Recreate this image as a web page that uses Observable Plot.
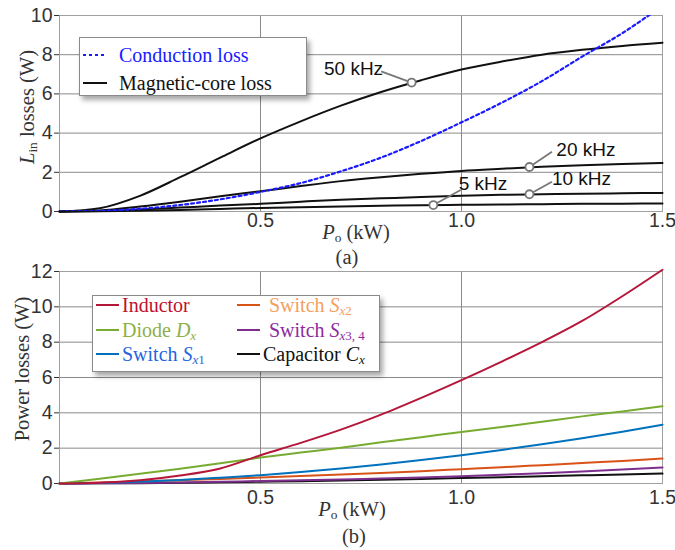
<!DOCTYPE html>
<html>
<head>
<meta charset="utf-8">
<script src="https://cdn.jsdelivr.net/npm/d3@7"></script>
<script src="https://cdn.jsdelivr.net/npm/@observablehq/plot@0.6"></script>
<style>
  body { margin: 0; background: #fff; }
  #wrap { position: relative; width: 675px; height: 550px; background: #fff; overflow: hidden; }
  .abs { position: absolute; white-space: nowrap; }
  .serif { font-family: "Liberation Serif", "Times New Roman", serif; }
  .sub { font-size: 0.65em; position: relative; top: 0.22em; line-height: 0; }
  .legend { position: absolute; background: #fff; border: 1.5px solid #8a8a8a; box-shadow: 3px 4px 5px rgba(0,0,0,0.35); }
  .row { position: absolute; display: flex; align-items: center; height: 20px; line-height: 20px; font-family: "Liberation Serif", "Times New Roman", serif; font-size: 20px; white-space: nowrap; }
  .row svg { margin-right: 3px; }
</style>
</head>
<body>
<div id="wrap">
  <div id="top" class="abs" style="left:0;top:0"></div>
  <div id="bot" class="abs" style="left:0;top:262px"></div>

  <!-- axis titles panel (a) -->
  <div class="abs serif" style="left:27px;top:107px;font-size:20.5px;color:#333;transform:translate(-50%,-50%) rotate(-90deg);"><i>L</i><span class="sub">in</span> losses (W)</div>
  <div class="abs serif" style="left:356px;top:224px;font-size:20.5px;line-height:17px;color:#333;transform:translateX(-50%);"><i>P</i><span class="sub">o</span> (kW)</div>
  <div class="abs serif" style="left:347px;top:249px;font-size:20.5px;line-height:17px;color:#333;transform:translateX(-50%);">(a)</div>

  <!-- axis titles panel (b) -->
  <div class="abs serif" style="left:22px;top:369px;font-size:20.5px;color:#333;transform:translate(-50%,-50%) rotate(-90deg);">Power losses (W)</div>
  <div class="abs serif" style="left:352px;top:501px;font-size:20.5px;line-height:17px;color:#333;transform:translateX(-50%);"><i>P</i><span class="sub">o</span> (kW)</div>
  <div class="abs serif" style="left:354px;top:528px;font-size:20.5px;line-height:17px;color:#333;transform:translateX(-50%);">(b)</div>

  <!-- legend (a) -->
  <div class="legend" style="left:79px;top:37px;width:226px;height:57px;"></div>
  <div class="row" style="left:83px;top:45px;color:#1a1aff;">
    <svg width="24" height="4"><line x1="0" y1="2" x2="24" y2="2" stroke="#1a1aff" stroke-width="2" stroke-dasharray="3,3"/></svg>
    <span style="margin-left:9px">Conduction loss</span>
  </div>
  <div class="row" style="left:83px;top:73px;color:#111;">
    <svg width="24" height="4"><line x1="0" y1="2" x2="24" y2="2" stroke="#111" stroke-width="2"/></svg>
    <span style="margin-left:9px">Magnetic-core loss</span>
  </div>

  <!-- legend (b) -->
  <div class="legend" style="left:92px;top:295px;width:286px;height:75px;"></div>
  <div id="legB"></div>
</div>

<script>
// ---------- data ----------
const po = [0, 0.1, 0.2, 0.3, 0.4, 0.5, 0.6, 0.7, 0.8, 0.9, 1.0, 1.1, 1.2, 1.3, 1.4, 1.5];

// panel (a): L_in losses (W)
const conduction = [0, 0.03, 0.14, 0.33, 0.62, 1.0, 1.45, 2.05, 2.75, 3.6, 4.55, 5.55, 6.65, 7.9, 9.1, 10.5];
const core50 = [0, 0.17, 0.8, 1.75, 2.75, 3.73, 4.6, 5.4, 6.1, 6.7, 7.24, 7.65, 8.0, 8.25, 8.45, 8.61];
const core20 = [0, 0.05, 0.25, 0.5, 0.78, 1.03, 1.3, 1.55, 1.75, 1.92, 2.07, 2.18, 2.28, 2.36, 2.42, 2.47];
const core10 = [0, 0.02, 0.1, 0.2, 0.3, 0.39, 0.5, 0.6, 0.67, 0.74, 0.8, 0.85, 0.88, 0.91, 0.93, 0.95];
const core5  = [0, 0.01, 0.04, 0.08, 0.13, 0.18, 0.22, 0.26, 0.29, 0.32, 0.34, 0.36, 0.375, 0.39, 0.40, 0.41];

// panel (b): power losses (W)
const inductor = [0, 0.04, 0.18, 0.45, 0.85, 1.6, 2.3, 3.05, 3.9, 4.85, 5.85, 6.9, 8.0, 9.2, 10.6, 12.1];
const diode    = [0, 0.27, 0.55, 0.84, 1.15, 1.47, 1.75, 2.03, 2.33, 2.62, 2.92, 3.2, 3.5, 3.8, 4.08, 4.37];
const sx1      = [0, 0.03, 0.1, 0.2, 0.33, 0.47, 0.65, 0.85, 1.08, 1.33, 1.6, 1.9, 2.22, 2.56, 2.93, 3.33];
const sx2      = [0, 0.05, 0.12, 0.19, 0.26, 0.34, 0.42, 0.51, 0.6, 0.7, 0.81, 0.92, 1.04, 1.16, 1.28, 1.41];
const sx34     = [0, 0.01, 0.03, 0.06, 0.1, 0.14, 0.18, 0.23, 0.28, 0.34, 0.41, 0.49, 0.58, 0.68, 0.79, 0.91];
const capCx    = [0, 0.01, 0.02, 0.04, 0.07, 0.1, 0.13, 0.17, 0.21, 0.26, 0.31, 0.36, 0.41, 0.46, 0.51, 0.56];

const xTicks = [0.5, 1.0, 1.5];
const yTicksA = [0, 2, 4, 6, 8, 10];
const yTicksB = [0, 2, 4, 6, 8, 10, 12];

// frequency annotations (data space): marker point, leader end, label point
const annLabels = ["50 kHz", "20 kHz", "10 kHz", "5 kHz"];
const annDotX   = [0.876, 1.169, 1.169, 0.930];
const annDotY   = [6.58, 2.27, 0.88, 0.33];
const annEndX   = [0.800, 1.225, 1.225, 0.998];
const annEndY   = [7.15, 3.05, 1.52, 1.10];
const annTextX  = [0.805, 1.236, 1.225, 0.993];
const annTextY  = [7.30, 3.12, 1.67, 1.40];
const annAnchor = ["end", "start", "start", "start"];

// ---------- helpers ----------
const toRows = (name, arr) => po.map((x, i) => ({ x, y: arr[i], name }));
const ann = annLabels.map((label, i) => ({
  label, dx: annDotX[i], dy: annDotY[i], ex: annEndX[i], ey: annEndY[i],
  tx: annTextX[i], ty: annTextY[i], anchor: annAnchor[i]
}));

const common = {
  width: 675,
  marginLeft: 59,
  marginRight: 13,
  style: { fontFamily: '"Liberation Sans", Arial, sans-serif', fontSize: "19.5px", color: "#333", background: "transparent", overflow: "visible" },
  x: { domain: [0, 1.5] }
};

// ---------- panel (a) ----------
const topPlot = Plot.plot({
  ...common,
  height: 262,
  marginTop: 15,
  marginBottom: 51,
  y: { domain: [0, 10] },
  marks: [
    Plot.gridX(xTicks, { stroke: "#8a8a8a", strokeOpacity: 1 }),
    Plot.gridY(yTicksA, { stroke: "#8a8a8a", strokeOpacity: 1 }),
    Plot.frame({ stroke: "#a0a0a0" }),
    Plot.axisY({ ticks: yTicksA, tickSize: 5, tickPadding: 2, label: null, stroke: "#333" }),
    Plot.axisX({ ticks: xTicks, tickFormat: d3.format(".1f"), tickSize: 0, tickPadding: 2, label: null }),
    ...[core50, core20, core10, core5].map((arr, k) =>
      Plot.line(toRows("core" + k, arr), { x: "x", y: "y", stroke: "#111", strokeWidth: 2, curve: "monotone-x" })),
    Plot.line(toRows("cond", conduction), { x: "x", y: "y", stroke: "#1a1aff", strokeWidth: 2.2, strokeDasharray: "3,3", curve: "monotone-x", clip: true }),
    Plot.link(ann, { x1: "dx", y1: "dy", x2: "ex", y2: "ey", stroke: "#777", strokeWidth: 1.8 }),
    Plot.dot(ann, { x: "dx", y: "dy", r: 4, stroke: "#777", strokeWidth: 1.8, fill: "#fff" }),
    Plot.text(ann.filter(d => d.anchor === "end"), { x: "tx", y: "ty", text: "label", textAnchor: "end", fontSize: 19, fill: "#111" }),
    Plot.text(ann.filter(d => d.anchor === "start"), { x: "tx", y: "ty", text: "label", textAnchor: "start", fontSize: 19, fill: "#111" })
  ]
});
document.getElementById("top").append(topPlot);

// ---------- panel (b) ----------
const seriesB = [
  { name: "Inductor", data: inductor, color: "#b5173a" },
  { name: "Diode", data: diode, color: "#77ac30" },
  { name: "Sx1", data: sx1, color: "#0072bd" },
  { name: "Sx2", data: sx2, color: "#d95319" },
  { name: "Sx34", data: sx34, color: "#7e2f8e" },
  { name: "Cx", data: capCx, color: "#111111" }
];

const botPlot = Plot.plot({
  ...common,
  height: 288,
  marginTop: 9,
  marginBottom: 67,
  y: { domain: [0, 12] },
  marks: [
    Plot.gridX(xTicks, { stroke: "#8a8a8a", strokeOpacity: 1 }),
    Plot.gridY(yTicksB, { stroke: "#8a8a8a", strokeOpacity: 1 }),
    Plot.frame({ stroke: "#a0a0a0" }),
    Plot.axisY({ ticks: yTicksB, tickSize: 5, tickPadding: 2, label: null, stroke: "#333" }),
    Plot.axisX({ ticks: xTicks, tickFormat: d3.format(".1f"), tickSize: 0, tickPadding: 7, label: null }),
    ...seriesB.slice().reverse().map(s =>
      Plot.line(toRows(s.name, s.data), { x: "x", y: "y", stroke: s.color, strokeWidth: 2, curve: "monotone-x" }))
  ]
});
document.getElementById("bot").append(botPlot);

// ---------- legend (b) ----------
const legItems = [
  { line: "#b5173a", text: "#c0102a", html: "Inductor", left: 96, y: 305 },
  { line: "#77ac30", text: "#8db04a", html: "Diode <i>D<span class='sub'>x</span></i>", left: 96, y: 330 },
  { line: "#0072bd", text: "#1f66e0", html: "Switch <i>S</i><span class='sub'><i>x</i>1</span>", left: 96, y: 354 },
  { line: "#d95319", text: "#f4a060", html: "Switch <i>S</i><span class='sub'><i>x</i>2</span>", left: 237, y: 305, gap: 6 },
  { line: "#7e2f8e", text: "#8e2aa0", html: "Switch <i>S</i><span class='sub'><i>x</i>3, 4</span>", left: 237, y: 330, gap: 6 },
  { line: "#111111", text: "#111111", html: "Capacitor <i>C<span class='sub'>x</span></i>", left: 237, y: 354, gap: 0 }
];
const legB = document.getElementById("legB");
legItems.forEach(d => {
  const row = document.createElement("div");
  row.className = "row";
  row.style.left = d.left + "px";
  row.style.top = (d.y - 10) + "px";
  row.style.color = d.text;
  row.innerHTML = `<svg width="23" height="4"><line x1="0" y1="2" x2="23" y2="2" stroke="${d.line}" stroke-width="2"/></svg><span style="margin-left:${d.gap ?? 0}px">${d.html}</span>`;
  legB.append(row);
});
</script>
</body>
</html>
